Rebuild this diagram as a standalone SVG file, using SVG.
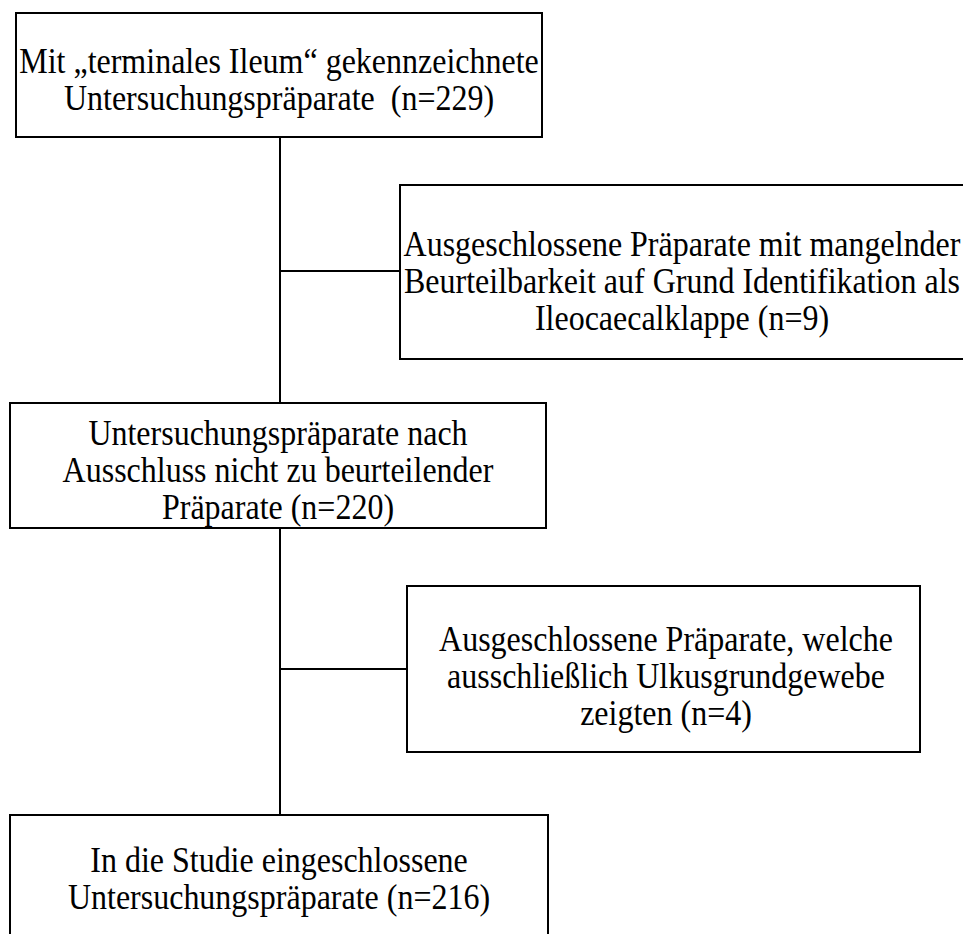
<svg xmlns="http://www.w3.org/2000/svg" width="963" height="934" viewBox="0 0 963 934">
<style>
.box{fill:#fff;stroke:#000;stroke-width:2}
.ln{stroke:#000;stroke-width:2;fill:none}
text{font-family:"Liberation Serif","Times New Roman",serif;font-size:32px;fill:#000;text-anchor:middle;white-space:pre}
</style>
<rect x="0" y="0" width="963" height="934" fill="#fff"/>
<g id="connectors">
<line class="ln" x1="280" y1="137" x2="280" y2="403"/>
<line class="ln" x1="280" y1="271" x2="400" y2="271"/>
<line class="ln" x1="280" y1="528" x2="280" y2="815"/>
<line class="ln" x1="280" y1="669" x2="407" y2="669"/>
</g>
<g id="n1">
<rect class="box" x="16" y="13" width="526" height="124"/>
<text transform="translate(279 73) scale(1 1.15)">Mit „terminales Ileum“ gekennzeichnete</text>
<text transform="translate(279 110) scale(1 1.15)" xml:space="preserve">Untersuchungspräparate  (n=229)</text>
</g>
<g id="n2">
<rect class="box" x="400" y="185" width="580" height="174"/>
<text transform="translate(682 256) scale(1 1.15)">Ausgeschlossene Präparate mit mangelnder</text>
<text transform="translate(682 293) scale(1 1.15)">Beurteilbarkeit auf Grund Identifikation als</text>
<text transform="translate(682 330) scale(1 1.15)">Ileocaecalklappe (n=9)</text>
</g>
<g id="n3">
<rect class="box" x="10" y="403" width="536" height="125"/>
<text transform="translate(278 445) scale(1 1.15)">Untersuchungspräparate nach</text>
<text transform="translate(278 482) scale(1 1.15)">Ausschluss nicht zu beurteilender</text>
<text transform="translate(278 519) scale(1 1.15)">Präparate (n=220)</text>
</g>
<g id="n4">
<rect class="box" x="407" y="586" width="513" height="166"/>
<text transform="translate(666 651) scale(1 1.15)">Ausgeschlossene Präparate, welche</text>
<text transform="translate(666 688) scale(1 1.15)">ausschließlich Ulkusgrundgewebe</text>
<text transform="translate(666 725) scale(1 1.15)">zeigten (n=4)</text>
</g>
<g id="n5">
<rect class="box" x="10" y="815" width="538" height="140"/>
<text transform="translate(279 872) scale(1 1.15)">In die Studie eingeschlossene</text>
<text transform="translate(279 909) scale(1 1.15)">Untersuchungspräparate (n=216)</text>
</g>
</svg>
